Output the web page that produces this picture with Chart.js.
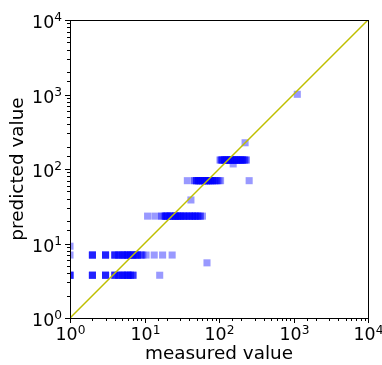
<!DOCTYPE html>
<html>
<head>
<meta charset="utf-8">
<script src="https://cdn.jsdelivr.net/npm/chart.js@4/dist/chart.umd.min.js"></script>
<style>
  body { margin: 0; background: #fff; }
  #wrap { width: 382px; height: 365px; }
</style>
</head>
<body>
<div id="wrap"><canvas id="c"></canvas></div>
<script>
// predicted level of each horizontal band, and the measured values in it
const rowLevels = [3.75, 7.0, 23.3, 69.7, 132];
const row1 = [1, 1, 1, 1, 2, 2, 2, 2, 3, 3, 3, 3, 4, 4, 4, 4, 4.5, 4.5, 5, 5, 5, 5, 5.5, 5.5, 6, 6, 6, 6, 6.5, 6.5, 7, 7, 7, 16];
const row2 = [1, 2, 2, 2, 2, 3, 3, 3, 3, 4, 4, 4, 4, 4.5, 4.5, 5, 5, 5, 5, 5.5, 5.5, 6, 6, 6, 6, 6.5, 6.5, 7, 7, 7, 7.5, 7.5, 8, 8, 8, 9, 9, 9.5, 10.5, 13.5, 17.5, 23.5];
const row3 = [11, 13.8, 17, 17, 19, 19, 19, 20, 20, 20, 22, 22, 22, 24, 24, 24, 26, 26, 26, 28, 28, 28, 30, 30, 30, 33, 33, 33, 36, 36, 36, 40, 40, 40, 44, 44, 44, 48, 48, 48, 52, 52, 56, 56, 60];
const row4 = [37.6, 47, 47, 50, 50, 50, 53, 53, 53, 56, 56, 56, 60, 60, 60, 64, 64, 64, 68, 68, 68, 72, 72, 72, 77, 77, 77, 82, 82, 82, 88, 88, 94, 94, 100, 105, 254];
const row5 = [103, 106, 110, 110, 110, 118, 118, 118, 125, 125, 125, 133, 133, 133, 142, 142, 142, 150, 150, 150, 160, 160, 160, 170, 170, 170, 180, 180, 180, 192, 192, 192, 205, 205, 205, 218, 218, 230, 232];
// scattered single points
const extraMeasured = [1, 42, 69, 155, 224, 1125];
const extraPredicted = [9.2, 38.4, 5.5, 117, 225, 1006];

const diagonal = [1, 10000];

const rows = [row1, row2, row3, row4, row5];
const points = [];
rows.forEach((r, i) => r.forEach(x => points.push({ x: x, y: rowLevels[i] })));
extraMeasured.forEach((x, i) => points.push({ x: x, y: extraPredicted[i] }));

const FONT = 'DejaVu Sans';

function isDecade(v) {
  const l = Math.log10(v);
  return Math.abs(l - Math.round(l)) < 1e-9;
}

// ticks, 10^n labels and box like matplotlib
const frame = {
  id: 'frame',
  afterDraw(chart) {
    const ctx = chart.ctx;
    const a = chart.chartArea;
    const xs = chart.scales.x, ys = chart.scales.y;
    ctx.save();
    ctx.strokeStyle = '#000';
    ctx.fillStyle = '#000';
    ctx.lineWidth = 1;
    ctx.textBaseline = 'alphabetic';
    ctx.textAlign = 'left';

    const label = (v, cx, right, base) => {
      const exp = String(Math.round(Math.log10(v)));
      ctx.font = '17.4px "' + FONT + '"';
      const w1 = ctx.measureText('10').width;
      ctx.font = '12.2px "' + FONT + '"';
      const w2 = ctx.measureText(exp).width;
      const x0 = right != null ? right - w1 - w2 : cx - (w1 + w2) / 2;
      ctx.font = '17.4px "' + FONT + '"';
      ctx.fillText('10', x0, base);
      ctx.font = '12.2px "' + FONT + '"';
      ctx.fillText(exp, x0 + w1, base - 6.5);
    };

    xs.ticks.forEach(t => {
      const px = Math.round(xs.getPixelForValue(t.value)) + 0.5;
      const major = isDecade(t.value);
      ctx.beginPath();
      ctx.moveTo(px, a.bottom);
      ctx.lineTo(px, a.bottom + (major ? 5 : 3));
      ctx.stroke();
      if (major) label(t.value, px, null, a.bottom + 22);
    });
    ys.ticks.forEach(t => {
      const py = Math.round(ys.getPixelForValue(t.value)) + 0.5;
      const major = isDecade(t.value);
      ctx.beginPath();
      ctx.moveTo(a.left, py);
      ctx.lineTo(a.left - (major ? 5 : 3), py);
      ctx.stroke();
      if (major) label(t.value, null, a.left - 8, py + 7);
    });
    ctx.strokeRect(Math.round(a.left) + 0.5, Math.round(a.top) + 0.5,
      Math.round(a.right - a.left), Math.round(a.bottom - a.top));
    ctx.restore();
  }
};

const titleFont = { family: FONT, size: 18.4 };

new Chart(document.getElementById('c'), {
  data: {
    datasets: [
      {
        type: 'line',
        data: diagonal.map(v => ({ x: v, y: v })),
        borderColor: '#bfbf00',
        borderWidth: 1.5,
        pointRadius: 0,
        order: 0
      },
      {
        type: 'scatter',
        data: points,
        pointStyle: 'rect',
        pointRadius: 5,
        borderWidth: 0,
        backgroundColor: 'rgba(0,0,255,0.4)',
        order: 1
      }
    ]
  },
  options: {
    responsive: true,
    maintainAspectRatio: false,
    animation: false,
    layout: { padding: { left: 0, right: 14, top: 20, bottom: 0 } },
    plugins: { legend: { display: false }, tooltip: { enabled: false } },
    scales: {
      x: {
        type: 'logarithmic',
        min: 1,
        max: 10000,
        grid: { display: false, drawTicks: false },
        border: { display: false },
        afterFit: s => { s.height = 47; s.paddingLeft = 0; s.paddingRight = 0; },
        ticks: { display: false, autoSkip: false },
        title: {
          display: true,
          text: 'measured value',
          color: '#000',
          font: titleFont,
          padding: { top: 0, bottom: 0 }
        }
      },
      y: {
        type: 'logarithmic',
        min: 1,
        max: 10000,
        grid: { display: false, drawTicks: false },
        border: { display: false },
        afterFit: s => { s.width = 70; s.paddingTop = 0; s.paddingBottom = 0; },
        ticks: { display: false, autoSkip: false },
        title: {
          display: true,
          text: 'predicted value',
          color: '#000',
          font: titleFont,
          padding: { top: 7, bottom: 0 }
        }
      }
    }
  },
  plugins: [frame]
});
</script>
</body>
</html>
